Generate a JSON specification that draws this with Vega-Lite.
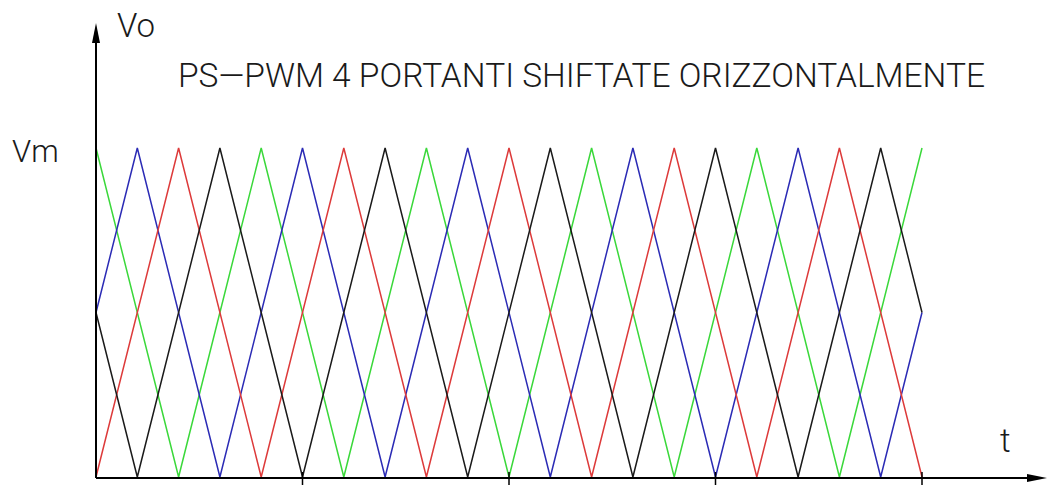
{
  "$schema": "https://vega.github.io/schema/vega-lite/v6.json",
  "width": 1047,
  "height": 486,
  "autosize": {"type": "none"},
  "padding": 0,
  "background": "white",
  "config": {"view": {"stroke": null}},
  "datasets": {
    "carriers": [
      {"s": "green", "x": 0, "y": 1}, {"s": "green", "x": 2, "y": 0}, {"s": "green", "x": 4, "y": 1}, {"s": "green", "x": 6, "y": 0}, {"s": "green", "x": 8, "y": 1}, {"s": "green", "x": 10, "y": 0}, {"s": "green", "x": 12, "y": 1}, {"s": "green", "x": 14, "y": 0}, {"s": "green", "x": 16, "y": 1}, {"s": "green", "x": 18, "y": 0}, {"s": "green", "x": 20, "y": 1},
      {"s": "blue", "x": 0, "y": 0.5}, {"s": "blue", "x": 1, "y": 1}, {"s": "blue", "x": 3, "y": 0}, {"s": "blue", "x": 5, "y": 1}, {"s": "blue", "x": 7, "y": 0}, {"s": "blue", "x": 9, "y": 1}, {"s": "blue", "x": 11, "y": 0}, {"s": "blue", "x": 13, "y": 1}, {"s": "blue", "x": 15, "y": 0}, {"s": "blue", "x": 17, "y": 1}, {"s": "blue", "x": 19, "y": 0}, {"s": "blue", "x": 20, "y": 0.5},
      {"s": "red", "x": 0, "y": 0}, {"s": "red", "x": 2, "y": 1}, {"s": "red", "x": 4, "y": 0}, {"s": "red", "x": 6, "y": 1}, {"s": "red", "x": 8, "y": 0}, {"s": "red", "x": 10, "y": 1}, {"s": "red", "x": 12, "y": 0}, {"s": "red", "x": 14, "y": 1}, {"s": "red", "x": 16, "y": 0}, {"s": "red", "x": 18, "y": 1}, {"s": "red", "x": 20, "y": 0},
      {"s": "black", "x": 0, "y": 0.5}, {"s": "black", "x": 1, "y": 0}, {"s": "black", "x": 3, "y": 1}, {"s": "black", "x": 5, "y": 0}, {"s": "black", "x": 7, "y": 1}, {"s": "black", "x": 9, "y": 0}, {"s": "black", "x": 11, "y": 1}, {"s": "black", "x": 13, "y": 0}, {"s": "black", "x": 15, "y": 1}, {"s": "black", "x": 17, "y": 0}, {"s": "black", "x": 19, "y": 1}, {"s": "black", "x": 20, "y": 0.5}
    ],
    "ticks": [{"t": 5}, {"t": 10}, {"t": 15}, {"t": 20}],
    "one": [{}]
  },
  "layer": [
    {
      "data": {"name": "carriers"},
      "mark": {"type": "line", "strokeWidth": 1.5},
      "encoding": {
        "x": {"field": "x", "type": "quantitative", "axis": null, "scale": {"domain": [-2.3245, 23.0266], "nice": false, "zero": false}},
        "y": {"field": "y", "type": "quantitative", "axis": null, "scale": {"domain": [-0.02736, 1.44985], "nice": false, "zero": false}},
        "color": {"field": "s", "type": "nominal", "legend": null, "scale": {"domain": ["green", "blue", "red", "black"], "range": ["#3ad83a", "#2b2bb5", "#dd3a3a", "#1a1a1a"]}},
        "order": {"field": "x", "type": "quantitative"}
      }
    },
    {
      "data": {"name": "one"},
      "mark": {"type": "rule", "color": "black", "strokeWidth": 2},
      "encoding": {
        "x": {"datum": 0, "type": "quantitative"},
        "y": {"datum": -0.00304, "type": "quantitative"},
        "y2": {"datum": 1.33}
      }
    },
    {
      "data": {"name": "one"},
      "mark": {"type": "rule", "color": "black", "strokeWidth": 2},
      "encoding": {
        "x": {"datum": 0, "type": "quantitative"},
        "x2": {"datum": 22.6},
        "y": {"datum": -0.00304, "type": "quantitative"}
      }
    },
    {
      "data": {"name": "ticks"},
      "mark": {"type": "rule", "color": "black", "strokeWidth": 1.5},
      "encoding": {
        "x": {"field": "t", "type": "quantitative"},
        "y": {"datum": 0.0152, "type": "quantitative"},
        "y2": {"datum": -0.0243}
      }
    },
    {
      "data": {"name": "one"},
      "mark": {"type": "point", "shape": "M0,-1L0.4,1L-0.4,1Z", "size": 400, "filled": true, "color": "black", "opacity": 1},
      "encoding": {
        "x": {"datum": 0, "type": "quantitative"},
        "y": {"datum": 1.3495, "type": "quantitative"}
      }
    },
    {
      "data": {"name": "one"},
      "mark": {"type": "point", "shape": "M1,0L-1,0.4L-1,-0.4Z", "size": 400, "filled": true, "color": "black", "opacity": 1},
      "encoding": {
        "x": {"datum": 22.785, "type": "quantitative"},
        "y": {"datum": -0.00304, "type": "quantitative"}
      }
    },
    {
      "data": {"name": "one"},
      "mark": {"type": "text", "text": "PS—PWM 4 PORTANTI SHIFTATE ORIZZONTALMENTE", "font": "Roboto", "fontWeight": 300, "fontSize": 33.5, "align": "left", "baseline": "alphabetic", "color": "#1a1a1a"},
      "encoding": {
        "x": {"datum": 1.985, "type": "quantitative"},
        "y": {"datum": 1.1854, "type": "quantitative"}
      }
    },
    {
      "data": {"name": "one"},
      "mark": {"type": "text", "text": "Vo", "font": "Roboto", "fontWeight": 300, "fontSize": 33, "align": "left", "baseline": "alphabetic", "color": "#1a1a1a"},
      "encoding": {
        "x": {"datum": 0.508, "type": "quantitative"},
        "y": {"datum": 1.3374, "type": "quantitative"}
      }
    },
    {
      "data": {"name": "one"},
      "mark": {"type": "text", "text": "Vm", "font": "Roboto", "fontWeight": 300, "fontSize": 31, "align": "left", "baseline": "alphabetic", "color": "#1a1a1a"},
      "encoding": {
        "x": {"datum": -2.034, "type": "quantitative"},
        "y": {"datum": 0.9574, "type": "quantitative"}
      }
    },
    {
      "data": {"name": "one"},
      "mark": {"type": "text", "text": "t", "font": "Roboto", "fontWeight": 300, "fontSize": 33, "align": "left", "baseline": "alphabetic", "color": "#1a1a1a"},
      "encoding": {
        "x": {"datum": 21.888, "type": "quantitative"},
        "y": {"datum": 0.076, "type": "quantitative"}
      }
    }
  ]
}
